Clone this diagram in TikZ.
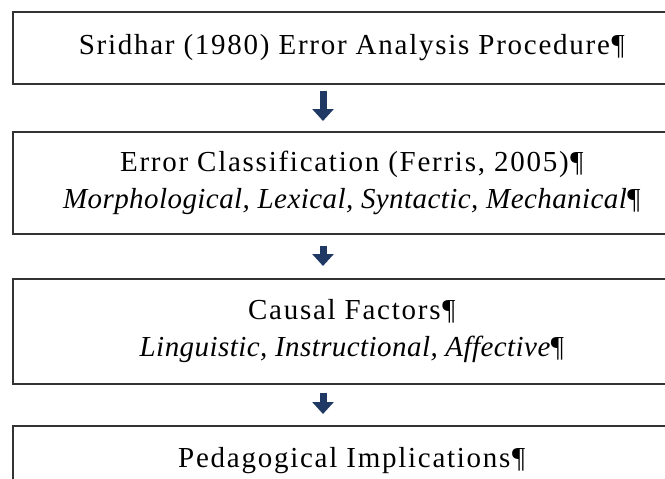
\documentclass[tikz,border=0pt]{standalone}
\usepackage{fontspec}
\setmainfont{Liberation Serif}[UprightFeatures={LetterSpace=6},
  ItalicFeatures={LetterSpace=1.5}]
\usetikzlibrary{arrows.meta}
\definecolor{arrownavy}{RGB}{31,56,100}
\tikzset{
  stage/.style={draw=black!80, line width=1.6pt, minimum width=678pt,
    anchor=north west, align=center, inner sep=0pt,
    font=\fontsize{29}{37}\selectfont},
  flow/.style={arrownavy, line width=7pt, -{Triangle[width=21pt,length=12pt]}}
}
\begin{document}
\begin{tikzpicture}[x=1pt,y=-1pt]
\useasboundingbox (0,0) rectangle (665,479);

\node[stage, minimum height=72pt] (proc) at (12,11)
  {Sridhar (1980) Error Analysis Procedure¶};
\node[stage, minimum height=102pt] (class) at (12,131)
  {Error Classification (Ferris, 2005)¶\\
   \textit{Morphological, Lexical, Syntactic, Mechanical}¶};
\node[stage, minimum height=105pt] (cause) at (12,278)
  {Causal Factors¶\\
   \textit{Linguistic, Instructional, Affective}¶};
\node[stage, minimum height=70pt] (impl) at (12,425)
  {Pedagogical Implications¶};

\coordinate (ax) at (323,0);
\draw[flow, shorten <=6pt, shorten >=10pt] (proc.south -| ax) -- (class.north -| ax);
\draw[flow, shorten <=11pt, shorten >=12pt] (class.south -| ax) -- (cause.north -| ax);
\draw[flow, shorten <=8pt, shorten >=11pt] (cause.south -| ax) -- (impl.north -| ax);
\end{tikzpicture}
\end{document}
